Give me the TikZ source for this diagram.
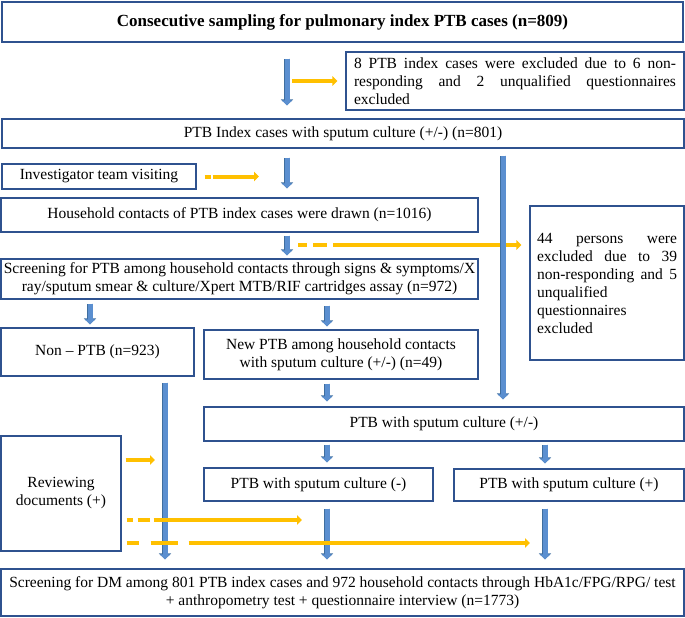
\documentclass[tikz,border=0pt]{standalone}
\usepackage{fontspec}
\setmainfont{Liberation Serif}
\usetikzlibrary{arrows.meta}
\definecolor{boxblue}{HTML}{2F528F}
\definecolor{arrblue}{HTML}{5B8FD0}
\definecolor{arredge}{HTML}{3F6E9F}
\definecolor{arryellow}{HTML}{FFC000}
\newcommand{\boxfont}{\fontsize{15.5}{18}\selectfont}
\newcommand{\topfont}{\fontsize{17}{20}\selectfont\bfseries}
\newcommand{\jline}[2]{\makebox[#1][l]{#2}}

\begin{document}
\begin{tikzpicture}[x=1pt,y=-1pt,
  box/.style={draw=boxblue,line width=1.2pt,fill=white,inner sep=0pt,align=center,font=\boxfont},
  bluearr/.style={draw=arrblue,line width=5pt,-{Triangle[width=10pt,length=5pt]},
    preaction={draw=arredge,line width=6.4pt,-{Triangle[width=12pt,length=6pt]}}},
  yelarr/.style={draw=arryellow,line width=4pt,-{Triangle[width=9.5pt,length=5pt]}}]
\useasboundingbox (0,0) rectangle (685,618);
%%% boxes, top to bottom
\node[box,minimum width=681pt,minimum height=40pt,font=\topfont] (cons) at (342.5,22)
  {Consecutive sampling for pulmonary index PTB cases (n=809)};
\node[box,minimum width=338pt,minimum height=58pt,text width=322pt,align=left] (excl) at (515,81)
  {\jline{322pt}{8\hfill PTB\hfill index\hfill cases\hfill were\hfill excluded\hfill due\hfill to\hfill 6\hfill non-}\\
   \jline{322pt}{responding\hfill and\hfill 2\hfill unqualified\hfill questionnaires}\\ excluded};
\node[box,minimum width=682pt,minimum height=29pt] (idx) at (343,133.5)
  {PTB Index cases with sputum culture (+/-) (n=801)};
\node[box,minimum width=194pt,minimum height=25pt] (inv) at (99,176.5) {Investigator team visiting};
\node[box,minimum width=477pt,minimum height=34pt] (hh) at (239.5,215)
  {Household contacts of PTB index cases were drawn (n=1016)};
\node[box,minimum width=154pt,minimum height=154pt,text width=140pt,align=left] (pers) at (607,283)
  {\jline{140pt}{44\hfill persons\hfill were}\\ \jline{140pt}{excluded\hfill due\hfill to\hfill 39}\\
   \jline{140pt}{non-responding\hfill and\hfill 5}\\ unqualified\\ questionnaires\\ excluded};
\node[box,minimum width=477pt,minimum height=40pt] (scr) at (239.5,279)
  {Screening for PTB among household contacts through signs \& symptoms/X\\
   ray/sputum smear \& culture/Xpert MTB/RIF cartridges assay (n=972)};
\node[box,minimum width=193pt,minimum height=48pt] (non) at (97.5,352) {Non – PTB (n=923)};
\node[box,minimum width=274pt,minimum height=49pt] (newp) at (341,354.5)
  {New PTB among household contacts\\ with sputum culture (+/-) (n=49)};
\node[box,minimum width=480pt,minimum height=34pt] (pm) at (444,424) {PTB with sputum culture (+/-)};
\node[box,minimum width=120pt,minimum height=115pt] (rev) at (61,493.5) {Reviewing\\ documents (+)};
\node[box,minimum width=229pt,minimum height=33pt] (neg) at (318.5,484.5) {PTB with sputum culture (-)};
\node[box,minimum width=230pt,minimum height=32pt] (pos) at (569,485) {PTB with sputum culture (+)};
\node[box,minimum width=683pt,minimum height=47pt] (dm) at (342.5,592.5)
  {Screening for DM among 801 PTB index cases and 972 household contacts through HbA1c/FPG/RPG/ test\\
   + anthropometry test + questionnaire interview (n=1773)};
%%% columns of the blue arrows
\coordinate (colA) at (287,0);
\coordinate (colB) at (503,0);
\coordinate (colC) at (90,0);
\coordinate (colD) at (327,0);
\coordinate (colE) at (165,0);
\coordinate (colF) at (545,0);
%%% free ends of the yellow arrows
\coordinate (exc2) at (298,245);
\coordinate (rv1) at ([yshift=33.5pt]rev.east);
\coordinate (rv2) at ([yshift=-26.5pt]rev.east);
\coordinate (rv3) at ([yshift=-49.5pt]rev.east);
%
\draw[bluearr,shorten <=16pt,shorten >=13pt] (cons.south -| colA) -- (idx.north -| colA);
\draw[yelarr,shorten <=5pt,shorten >=8pt] (colA |- excl.west) -- (excl.west);
\draw[bluearr,shorten <=9pt,shorten >=9pt] (idx.south -| colA) -- (hh.north -| colA);
\draw[yelarr,dash pattern=on 6pt off 2pt on 200pt,shorten <=8pt,shorten >=28pt] (inv.east) -- (inv.east -| colA);
\draw[bluearr,shorten <=3pt,shorten >=3pt] (hh.south -| colA) -- (scr.north -| colA);
\draw[yelarr,dash pattern=on 9pt off 6pt on 14pt off 6pt on 400pt,shorten >=8pt] (exc2) -- (exc2 -| pers.west);
\draw[bluearr,shorten <=7pt,shorten >=7pt] (idx.south -| colB) -- (pm.north -| colB);
\draw[bluearr,shorten <=4pt,shorten >=3pt] (scr.south -| colC) -- (non.north -| colC);
\draw[bluearr,shorten <=6pt,shorten >=3pt] (scr.south -| colD) -- (newp.north -| colD);
\draw[bluearr,shorten <=4pt,shorten >=5pt] (newp.south -| colD) -- (pm.north -| colD);
\draw[bluearr,shorten <=3pt,shorten >=5pt] (pm.south -| colD) -- (neg.north -| colD);
\draw[bluearr,shorten <=3pt,shorten >=5pt] (pm.south -| colF) -- (pos.north -| colF);
\draw[bluearr,shorten <=6pt,shorten >=9pt] (non.south -| colE) -- (dm.north -| colE);
\draw[bluearr,shorten <=7pt,shorten >=9pt] (neg.south -| colD) -- (dm.north -| colD);
\draw[bluearr,shorten <=7pt,shorten >=9pt] (pos.south -| colF) -- (dm.north -| colF);
%
\draw[yelarr,shorten <=4pt,shorten >=10pt] (rv1) -- (rv1 -| colE);
\draw[yelarr,dash pattern=on 6pt off 5pt on 12pt off 4pt on 300pt,shorten <=5pt,shorten >=25pt] (rv2) -- (rv2 -| colD);
\draw[yelarr,dash pattern=on 12pt off 12pt on 27pt off 11pt on 500pt,shorten <=5pt,shorten >=15pt] (rv3) -- (rv3 -| colF);
\end{tikzpicture}
\end{document}
